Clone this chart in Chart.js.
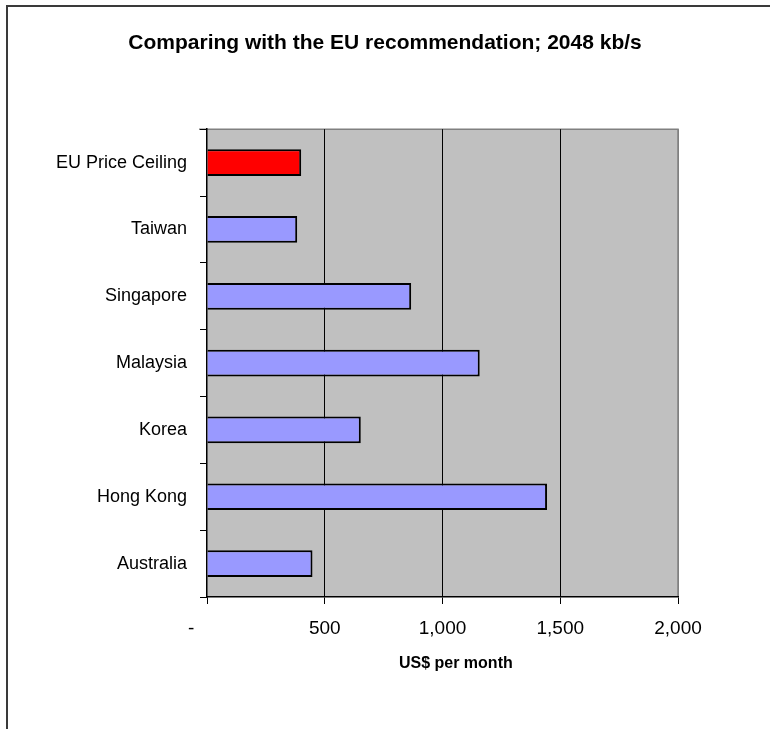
<!DOCTYPE html>
<html>
<head>
<meta charset="utf-8">
<title>Comparing with the EU recommendation; 2048 kb/s</title>
<script src="https://cdn.jsdelivr.net/npm/chart.js@4/dist/chart.umd.min.js"></script>
<style>
  html, body { margin: 0; padding: 0; background: #fff; }
  #wrap { width: 770px; height: 729px; }
</style>
</head>
<body>
<div id="wrap"><canvas id="myChart" width="770" height="729"></canvas></div>
<script>
// monthly leased line prices, 2048 kb/s
var countries = ["EU Price Ceiling", "Taiwan", "Singapore", "Malaysia", "Korea", "Hong Kong", "Australia"];
var prices = [400, 383, 867, 1158, 653, 1444, 448];
var xTicks = [0, 500, 1000, 1500, 2000];

var FONT = "'Liberation Sans', Arial, sans-serif";

// grey plot area + outer frame, like the old spreadsheet chart
var plotBg = {
	id: "plotBg",
	beforeDraw: function(chart){
		var c = chart.ctx, a = chart.chartArea;
		c.save();
		c.strokeStyle = "#3a3a3a";
		c.lineWidth = 2;
		c.beginPath();
		c.moveTo(7, 729);
		c.lineTo(7, 6);
		c.lineTo(770, 6);
		c.stroke();

		c.fillStyle = "#c0c0c0";
		c.fillRect(a.left, a.top, a.right - a.left, a.bottom - a.top);
		c.strokeStyle = "#808080";
		c.lineWidth = 1.5;
		c.beginPath();
		c.moveTo(a.left - 8, a.top);
		c.lineTo(a.right, a.top);
		c.lineTo(a.right, a.bottom);
		c.stroke();
		c.restore();
	}
};

var ctx = document.getElementById("myChart").getContext("2d");
var chart = new Chart(ctx, {
	type: "bar",
	data: {
		labels: countries,
		datasets: [{
			data: prices,
			backgroundColor: function(c){ return c.dataIndex === 0 ? "#ff0000" : "#9999ff"; },
			borderColor: "#000",
			borderWidth: 2,
			barPercentage: 0.4,
			categoryPercentage: 1
		}]
	},
	options: {
		indexAxis: "y",
		responsive: false,
		animation: false,
		layout: { padding: 0 },
		plugins: {
			legend: { display: false },
			tooltip: { enabled: false },
			title: {
				display: true,
				text: "Comparing with the EU recommendation; 2048 kb/s",
				color: "#000",
				font: { family: FONT, size: 21, weight: "bold" },
				padding: { top: 31, bottom: 73 }
			}
		},
		scales: {
			x: {
				min: 0,
				max: 2000,
				afterBuildTicks: function(s){ s.ticks = xTicks.map(function(v){ return { value: v }; }); },
				afterFit: function(s){ s.height = 132; s.paddingRight = 92; },
				grid: {
					color: function(c){
						if (c.tick && c.tick.value === 2000) return "#808080";
						if (c.tick && c.tick.value === 0) return "rgba(0,0,0,0)";
						return "#000";
					},
					lineWidth: 1,
					tickColor: "#000",
					tickLength: 7
				},
				border: { color: "#000", width: 1.5 },
				ticks: {
					color: "#000",
					padding: 13,
					maxRotation: 0,
					font: { family: FONT, size: 19 },
					callback: function(v){ return v === 0 ? "-      " : v.toLocaleString("en-US"); }
				},
				title: {
					display: true,
					text: "      US$ per month",
					color: "#000",
					font: { family: FONT, size: 16, weight: "bold" },
					padding: { top: 0, bottom: 56 }
				}
			},
			y: {
				afterFit: function(s){ s.width = 207; },
				grid: {
					drawOnChartArea: false,
					offset: true,
					tickColor: "#000",
					tickLength: 7
				},
				border: { color: "#000", width: 1.5 },
				ticks: {
					color: "#000",
					padding: 13,
					font: { family: FONT, size: 18 }
				}
			}
		}
	},
	plugins: [plotBg]
});
</script>
</body>
</html>
